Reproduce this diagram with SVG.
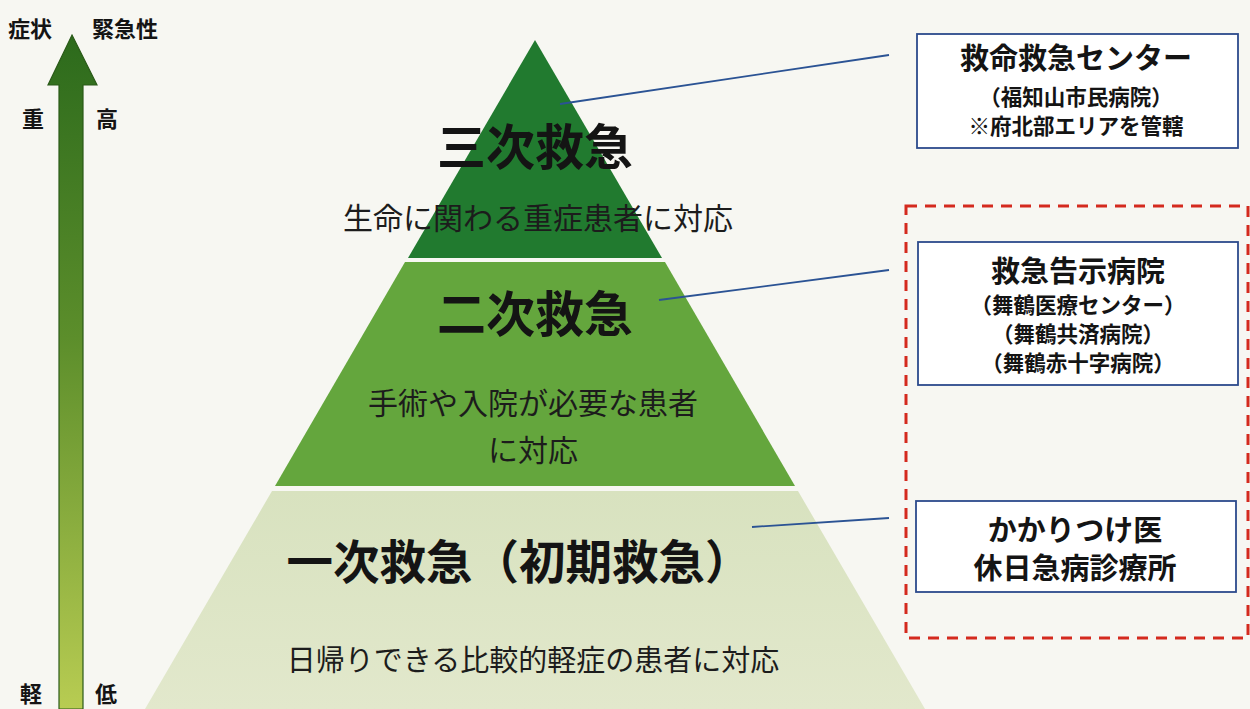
<svg xmlns="http://www.w3.org/2000/svg" width="1250" height="709" viewBox="0 0 1250 709">
  <defs>
    <linearGradient id="arrowGrad" x1="0" y1="0" x2="0" y2="1">
      <stop offset="0" stop-color="#2c6a1c"/>
      <stop offset="0.45" stop-color="#5c8e2b"/>
      <stop offset="1" stop-color="#b8cc52"/>
    </linearGradient>
    <linearGradient id="bottomGrad" x1="0" y1="0" x2="0" y2="1">
      <stop offset="0" stop-color="#d8e2bf"/>
      <stop offset="1" stop-color="#e2e8cc"/>
    </linearGradient>
    <style>
      .jp { font-family: "Noto Sans CJK JP", "Noto Sans", sans-serif; fill: #141414; }
      .title { font-weight: bold; text-anchor: middle; }
      .desc { font-weight: normal; text-anchor: middle; fill: #1c1c1c; }
      .lbl { font-weight: bold; font-size: 22px; }
      .box { fill: #ffffff; stroke: #2c4a8c; stroke-width: 1.8; }
      .btitle { font-weight: bold; font-size: 29px; text-anchor: middle; }
      .bsub { font-weight: bold; font-size: 21.5px; text-anchor: middle; }
      .conn { stroke: #2b5394; stroke-width: 1.8; fill: none; }
      .dashbox { fill: none; stroke: #d42a1e; stroke-width: 3; stroke-dasharray: 11 8; }
    </style>
  </defs>

  <rect width="1250" height="709" fill="#f7f7f2"/>

  <g id="axis-arrow">
    <polygon points="72,35 97,85 83,85 83,709 59,709 59,85 48,85" fill="url(#arrowGrad)" stroke="#2a5a18" stroke-width="1.2"/>
    <text class="jp lbl" x="8" y="37">症状</text>
    <text class="jp lbl" x="92" y="37">緊急性</text>
    <text class="jp lbl" x="22" y="127">重</text>
    <text class="jp lbl" x="96" y="127">高</text>
    <text class="jp lbl" x="20" y="702">軽</text>
    <text class="jp lbl" x="95" y="702">低</text>
  </g>

  <g id="level3">
    <polygon points="535,40 662,258 408,258" fill="#217a2f"/>
    <text class="jp title" x="535" y="165" font-size="49">三次救急</text>
    <text class="jp desc" x="538" y="229" font-size="30">生命に関わる重症患者に対応</text>
  </g>

  <g id="level2">
    <polygon points="405,262 665,262 795,486 275,486" fill="#64a63d"/>
    <text class="jp title" x="535" y="332" font-size="49">二次救急</text>
    <text class="jp desc" x="533" y="414" font-size="30">手術や入院が必要な患者<tspan x="533" dy="47">に対応</tspan></text>
  </g>

  <g id="level1">
    <polygon points="272,491 798,491 925,709 145,709" fill="url(#bottomGrad)"/>
    <text class="jp title" x="519" y="579" font-size="46.5">一次救急（初期救急）</text>
    <text class="jp desc" x="533" y="671" font-size="29">日帰りできる比較的軽症の患者に対応</text>
  </g>

  <g id="connectors">
    <line class="conn" x1="560" y1="104" x2="889" y2="55"/>
    <line class="conn" x1="659" y1="300" x2="889" y2="270"/>
    <line class="conn" x1="752" y1="527" x2="889" y2="518"/>
  </g>

  <g id="group-frame">
    <rect class="dashbox" x="906" y="206" width="342" height="432"/>
  </g>

  <g id="box-tertiary">
    <rect class="box" x="917" y="34" width="321" height="114"/>
    <text class="jp btitle" x="1076" y="69">救命救急センター</text>
    <text class="jp bsub" x="1076" y="105">（福知山市民病院）<tspan x="1076" dy="29">※府北部エリアを管轄</tspan></text>
  </g>

  <g id="box-secondary">
    <rect class="box" x="918" y="242" width="320" height="143"/>
    <text class="jp btitle" x="1078" y="282">救急告示病院</text>
    <text class="jp bsub" x="1078" y="313">（舞鶴医療センター）<tspan x="1078" dy="29">（舞鶴共済病院）</tspan><tspan x="1078" dy="29">（舞鶴赤十字病院）</tspan></text>
  </g>

  <g id="box-primary">
    <rect class="box" x="916" y="501" width="320" height="91"/>
    <text class="jp btitle" x="1075" y="541" font-size="30">かかりつけ医<tspan x="1075" dy="38">休日急病診療所</tspan></text>
  </g>
</svg>
